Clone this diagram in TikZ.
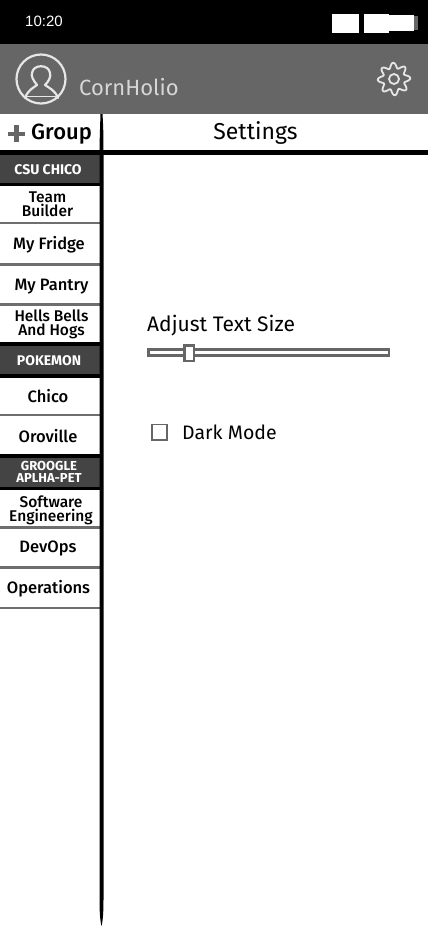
\documentclass[tikz,border=0pt]{standalone}
\usepackage{fontspec}
\setmainfont{Fira Sans}
\newfontfamily\medfont{Fira Sans Medium}
\newfontfamily\statusfont{Liberation Sans}
\definecolor{hdr}{HTML}{666666}
\definecolor{sect}{HTML}{444444}
\definecolor{sep}{HTML}{6E6E6E}
\definecolor{hl}{HTML}{E6E6E6}
\tikzset{
  x=1pt,y=-1pt,
  lbl/.style={inner sep=0pt,text=black,align=center,font=\medfont\fontsize{16.5}{14}\selectfont},
  twolbl/.style={inner sep=0pt,text=black,align=center,font=\medfont\fontsize{15.5}{14}\selectfont},
  sectlbl/.style={inner sep=0pt,text=white,align=center,font=\bfseries\fontsize{14}{11.5}\selectfont},
  sectbar/.style={fill=sect,draw=none},
  itemsep/.style={draw=sep,line width=2.6pt},
  maintext/.style={inner sep=0pt,text=black,anchor=west,font=\fontsize{19.5}{22}\selectfont},
  headline/.style={draw=hl,line width=2.2pt,line cap=round,line join=round},
}
\begin{document}
\begin{tikzpicture}
\useasboundingbox (0,0) rectangle (428,926);
\fill[white] (0,0) rectangle (428,926);
% status bar
\fill[black] (0,0) rectangle (428,44);
\node[inner sep=0pt,text=white,font=\statusfont\fontsize{15}{16}\selectfont] (time) at (44,21) {10:20};
\fill[white] (332,14) rectangle (359,33);
\fill[white] (364,14) rectangle (389,33);
\fill[white] (389,15) rectangle (414,31);
\fill[hdr] (414,16) rectangle (418,30);
% header
\fill[hdr] (0,44) rectangle (428,114);
\draw[headline] (41,79) circle (24.5);
\draw[headline] (25,98) .. controls (28,90) and (33,88) .. (37,85)
  .. controls (33,80) and (31,76) .. (32,73)
  .. controls (33,64) and (49,64) .. (50,73)
  .. controls (51,77) and (49,81) .. (45,85)
  .. controls (49,88) and (55,90) .. (58,98);
\draw[draw=hl,line width=1.5pt] (23,96.5) -- (59,96.5);
\node[inner sep=0pt,anchor=west,text=hl!85!gray,font=\fontsize{22}{25}\selectfont] (user) at (79,87.5) {CornHolio};
\draw[draw=hl,line width=1.8pt,line join=round] plot[smooth cycle,domain=0:356,samples=90,variable=\t]
  ({394+(13.6+2.7*cos(8*\t+22.5))*cos(\t)},{79+(13.6+2.7*cos(8*\t+22.5))*sin(\t)});
\draw[draw=hl,line width=1.8pt] (394,79) circle (5);
% top row
\fill[hdr] (8,131.5) rectangle (25,136);
\fill[hdr] (14.2,125) rectangle (18.8,142);
\node[maintext,font=\medfont\fontsize{22}{24}\selectfont] (group) at (31,134) {Group};
\node[inner sep=0pt,font=\fontsize{23}{24}\selectfont] (settings) at (255.5,133) {Settings};
\fill[black] (0,149.5) rectangle (428,155);
% sidebar
\fill[black] (0,155) rectangle (101,186);
\fill[black] (0,342) rectangle (101,378);
\fill[black] (0,454) rectangle (101,490);
\fill[sectbar] (0,155) rectangle (100,182.5);
\fill[sectbar] (0,346) rectangle (100,374);
\fill[sectbar] (0,458) rectangle (100,487);
\node[sectlbl] (csu) at (48,169.5) {CSU CHICO};
\node[sectlbl] (poke) at (49,360.5) {POKEMON};
\node[sectlbl,font=\bfseries\fontsize{13}{11.5}\selectfont] (groogle) at (49,472) {GROOGLE\\APLHA-PET};
\node[twolbl] (team) at (47.5,204) {Team\\Builder};
\node[lbl] (fridge) at (49,245) {My Fridge};
\node[lbl] (pantry) at (51.5,286.5) {My Pantry};
\node[twolbl] (hells) at (51.5,324) {Hells Bells\\And Hogs};
\node[lbl] (chico) at (48,396) {Chico};
\node[lbl] (oroville) at (48,436) {Oroville};
\node[twolbl] (software) at (51,510) {Software\\Engineering};
\node[lbl] (devops) at (48,548) {DevOps};
\node[lbl] (ops) at (48.5,588.5) {Operations};
\foreach \yy in {223,264.5,304.5,415,527.5,567.5,608}
  \draw[itemsep] (0,\yy) -- (100,\yy);
% vertical divider
\fill[black] (100.5,114) -- (102.5,114) .. controls (103.5,130) and (103.5,140) .. (103.5,160)
  -- (103.5,900) .. controls (103.5,915) and (102.5,922) .. (101.5,926)
  .. controls (100.5,922) and (99.5,915) .. (99.5,900) -- (99.5,160) .. controls (99.5,140) and (100,130) .. (100.5,114) -- cycle;
% settings content
\node[maintext,font=\fontsize{21}{22}\selectfont] (adjust) at (147,325.5) {Adjust Text Size};
\draw[draw=hdr,line width=2.4pt,fill=white] (148.5,349.5) rectangle (389,355.5);
\draw[draw=hdr,line width=2.4pt,fill=white] (184.5,345.5) rectangle (194,361);
\draw[draw=hdr,line width=1.5pt] (152,424.5) rectangle (167,440);
\node[maintext] (dark) at (182,432) {Dark Mode};
\end{tikzpicture}
\end{document}
